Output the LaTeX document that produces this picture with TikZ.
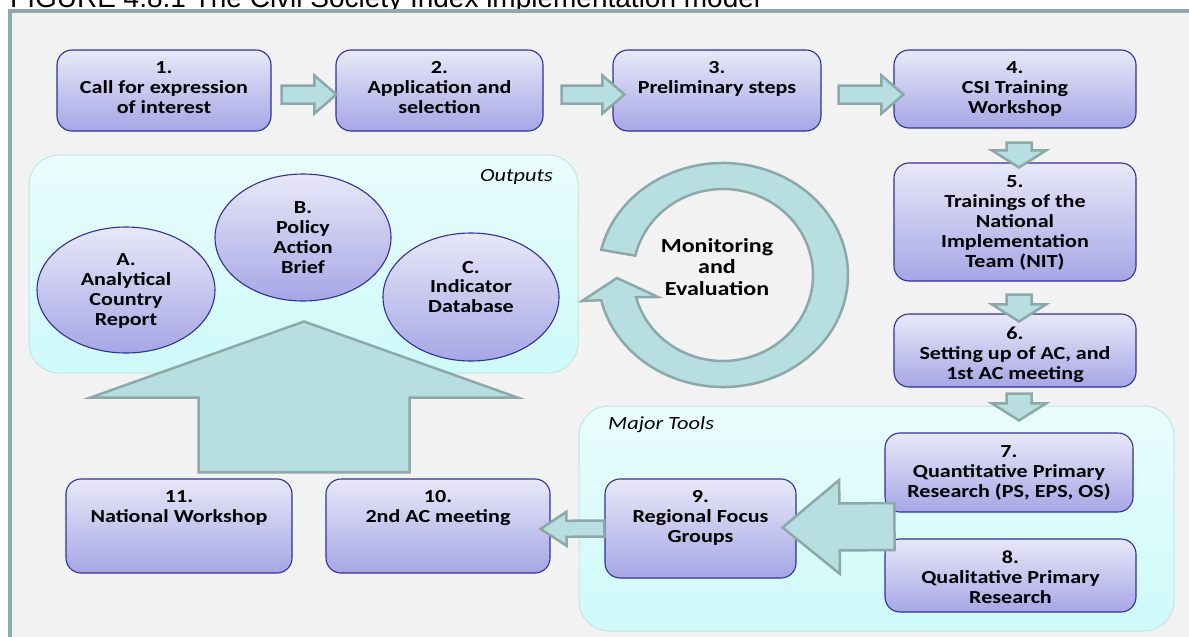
\documentclass[tikz,border=0pt]{standalone}
\usepackage{fontspec}
\setmainfont{Carlito}[FakeStretch=1.2]
\newfontfamily\capfont{Liberation Sans}
\usepackage{graphicx}
\usetikzlibrary{calc,shapes.geometric}

\definecolor{framecol}{RGB}{143,170,170}
\definecolor{panelbg}{RGB}{242,242,242}
\definecolor{boxtop}{RGB}{232,232,248}
\definecolor{boxbot}{RGB}{166,166,230}
\definecolor{boxline}{RGB}{48,48,150}
\definecolor{arrowfill}{RGB}{183,222,224}
\definecolor{arrowline}{RGB}{140,168,168}
\definecolor{grouptop}{RGB}{234,252,252}
\definecolor{groupbot}{RGB}{206,250,250}
\definecolor{groupline}{RGB}{196,228,228}

\tikzset{
  stepbox/.style={rectangle, rounded corners=15, top color=boxtop, bottom color=boxbot,
    draw=boxline, line width=1.1, inner sep=0},
  outbubble/.style={ellipse, top color=boxtop, bottom color=boxbot,
    draw=boxline, line width=1.1, inner sep=0},
  groupbox/.style={rectangle, rounded corners=30, top color=grouptop, bottom color=groupbot,
    draw=groupline, line width=1, inner sep=0},
  steptext/.style={font=\fontsize{18.4}{19.9}\selectfont\bfseries, align=center, inner sep=0},
  grouplabel/.style={font=\fontsize{18.6}{20}\selectfont\itshape, inner sep=0},
  blockarrow/.style={fill=arrowfill, draw=arrowline, line width=2.5}
}

% #1 tail, #2 tip, #3 shaft half width, #4 head half width, #5 head length
\newcommand{\fatarrow}[5]{%
  \draw[blockarrow] let \p1=#1, \p2=#2,
      \n1={atan2(\y2-\y1,\x2-\x1)}, \n2={veclen(\x2-\x1,\y2-\y1)} in
    [shift={(\p1)}, rotate=\n1]
    (0pt,{#3pt}) -- ({\n2-#5pt},{#3pt}) -- ({\n2-#5pt},{#4pt}) -- (\n2,0pt)
    -- ({\n2-#5pt},{-#4pt}) -- ({\n2-#5pt},{-#3pt}) -- (0pt,{-#3pt}) -- cycle;}

\begin{document}
\begin{tikzpicture}[x=1pt,y=-1pt]
\fill[white] (0,0) rectangle (1189,637);
\useasboundingbox (0,0) rectangle (1189,637);
\node[anchor=base west, inner sep=0] (ttl) at (10,7)
  {\capfont\resizebox{750pt}{!}{FIGURE 4.8.1 The Civil Society Index implementation model}};
\filldraw[fill=panelbg, draw=framecol, line width=3.5] (10,11) rectangle (1210,660);

\node[groupbox, minimum width=549, minimum height=218] (outp) at (303.5,264) {};
\node[groupbox, minimum width=595, minimum height=225] (tools) at (876.5,518.5) {};
\node[grouplabel, anchor=east] (outp-l) at (553,177) {Outputs};
\node[grouplabel, anchor=west] (tools-l) at (608,425) {Major Tools};

\node[stepbox, minimum width=214, minimum height=81] (s1) at (164,90.5) {};
\node[stepbox, minimum width=207, minimum height=81] (s2) at (439.5,90.5) {};
\node[stepbox, minimum width=208, minimum height=81] (s3) at (717,90.5) {};
\node[stepbox, minimum width=242, minimum height=78] (s4) at (1015,89) {};
\node[stepbox, minimum width=242, minimum height=118] (s5) at (1015,222) {};
\node[stepbox, minimum width=242, minimum height=73] (s6) at (1015,350.5) {};
\node[stepbox, minimum width=248, minimum height=79] (s7) at (1009,472.5) {};
\node[stepbox, minimum width=251, minimum height=73] (s8) at (1010.5,575.5) {};
\node[stepbox, minimum width=191, minimum height=99] (s9) at (700.5,528.5) {};
\node[stepbox, minimum width=224, minimum height=94] (s10) at (438,526) {};
\node[stepbox, minimum width=226, minimum height=94] (s11) at (179,526) {};

\node[steptext, anchor=north] (t1) at ($(s1.north)+(0,12)$) {1.\\Call for expression\\of interest};
\node[steptext, anchor=north] (t2) at ($(s2.north)+(0,12)$) {2.\\Application and\\selection};
\node[steptext, anchor=north] (t3) at ($(s3.north)+(0,12)$) {3.\\Preliminary steps};
\node[steptext, anchor=north] (t4) at ($(s4.north)+(0,12)$) {4.\\CSI Training\\Workshop};
\node[steptext, anchor=north] (t5) at ($(s5.north)+(0,13)$) {5.\\Trainings of the\\National\\Implementation\\Team (NIT)};
\node[steptext, anchor=north] (t6) at ($(s6.north)+(0,13)$) {6.\\Setting up of AC, and\\1st AC meeting};
\node[steptext, anchor=north] (t7) at ($(s7.north)+(0,13)$) {7.\\Quantitative Primary\\Research (PS, EPS, OS)};
\node[steptext, anchor=north] (t8) at ($(s8.north)+(0,12)$) {8.\\Qualitative Primary\\Research};
\node[steptext, anchor=north] (t9) at ($(s9.north)+(0,12)$) {9.\\Regional Focus\\Groups};
\node[steptext, anchor=north] (t10) at ($(s10.north)+(0,12)$) {10.\\2nd AC meeting};
\node[steptext, anchor=north] (t11) at ($(s11.north)+(0,12)$) {11.\\National Workshop};

\node[outbubble, minimum width=178, minimum height=126] (oa) at (126,290) {};
\node[outbubble, minimum width=176, minimum height=127] (ob) at (303,237.5) {};
\node[outbubble, minimum width=176, minimum height=128] (oc) at (471,297) {};
\node[steptext] (ta) at ($(oa)+(0,1)$) {A.\\Analytical\\Country\\Report};
\node[steptext] (tb) at (ob) {B.\\Policy\\Action\\Brief};
\node[steptext] (tc) at ($(oc)+(0,-10)$) {C.\\Indicator\\Database};

\node[font=\fontsize{20}{21.7}\selectfont\bfseries, align=center, inner sep=0] (me) at (717,267)
  {Monitoring\\and\\Evaluation};
\coordinate (mc) at ($(me)+(6,8)$);
\draw[blockarrow] ($(mc)+(193:125 and 112)$)
  arc[start angle=193, end angle=527, x radius=125, y radius=112]
  -- ($(mc)+(-141,26)$) -- ($(mc)+(-106,3)$) -- ($(mc)+(-65,22)$)
  -- ($(mc)+(525:90 and 86)$)
  arc[start angle=525, end angle=193, x radius=90, y radius=86] -- cycle;

\fatarrow{($(s1.east)+(10,4)$)}{($(s2.west)+(1,4)$)}{9}{19}{22}
\fatarrow{($(s2.east)+(18,4)$)}{($(s3.west)+(12,4)$)}{9}{19}{22}
\fatarrow{($(s3.east)+(17,4)$)}{($(s4.west)+(10,5.5)$)}{9}{19}{22}
\fatarrow{($(s4.south)+(4,14)$)}{($(s5.north)+(4,5)$)}{12.5}{27}{17}
\fatarrow{($(s5.south)+(4,13)$)}{($(s6.north)+(4,8)$)}{12.5}{27}{17}
\fatarrow{($(s6.south)+(4,6)$)}{($(s7.north)+(10,-12)$)}{12.5}{27}{17}
\coordinate (mt) at ($(s7.south west)!0.5!(s8.north west)$);
\fatarrow{($(mt)+(10,1)$)}{($(s9.east)+(-14,-1)$)}{23.5}{47}{57}
\fatarrow{(s9.west)}{($(s10.east)+(-10,3)$)}{8}{17}{26}
\fatarrow{($($(s11.north east)!0.5!(s10.north west)$)+(-5,-6)$)}{($(ob.south)+(1,20)$)}{105.5}{213.5}{76}
\end{tikzpicture}
\end{document}
